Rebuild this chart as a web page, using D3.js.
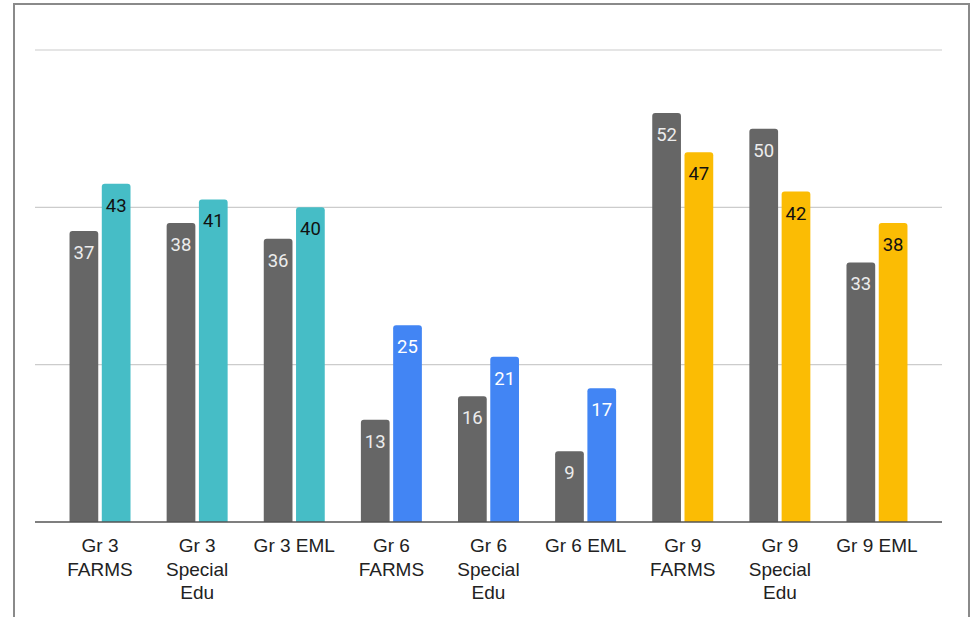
<!DOCTYPE html>
<html><head><meta charset="utf-8">
<script src="https://cdn.jsdelivr.net/npm/d3@7"></script>
<style>html,body{margin:0;padding:0;background:#fff;}svg{display:block;}</style>
</head><body>
<svg id="chart" width="977" height="617"></svg>
<script>
const categories = ["Gr 3 FARMS","Gr 3 Special Edu","Gr 3 EML","Gr 6 FARMS","Gr 6 Special Edu","Gr 6 EML","Gr 9 FARMS","Gr 9 Special Edu","Gr 9 EML"];
const seriesA = [37,38,36,13,16,9,52,50,33];
const seriesB = [43,41,40,25,21,17,47,42,38];
const colorsB = ["#46bdc6","#46bdc6","#46bdc6","#4285f4","#4285f4","#4285f4","#fbbc04","#fbbc04","#fbbc04"];
const labelColorsB = ["#111","#111","#111","#fff","#fff","#fff","#111","#111","#111"];
const gridTicks = [20,40,60];

const svg = d3.select("#chart");
// frame
svg.append("rect").attr("x",14).attr("y",4).attr("width",955).attr("height",640)
  .attr("fill","none").attr("stroke","#8a8a8a").attr("stroke-width",2);

const y = d3.scaleLinear().domain([0,60]).range([522,50]);
const x = d3.scaleBand().domain(categories).range([35,942]).paddingInner(0.372).paddingOuter(0.3555);
const xi = d3.scaleBand().domain(["A","B"]).range([0,x.bandwidth()]).paddingInner(0.11);

// grid
svg.append("g").selectAll("line").data(gridTicks).join("line")
  .attr("x1",35).attr("x2",942).attr("y1",d=>y(d)).attr("y2",d=>y(d))
  .attr("stroke","#cccccc").attr("stroke-width",1.2);

function barPath(x0,w,top,bottom,r){
  r=Math.min(r,(bottom-top));
  return `M${x0},${bottom}V${top+r}Q${x0},${top} ${x0+r},${top}H${x0+w-r}Q${x0+w},${top} ${x0+w},${top+r}V${bottom}Z`;
}

const data = categories.map((c,i)=>({c,i,a:seriesA[i],b:seriesB[i]}));
const g = svg.append("g");
data.forEach(d=>{
  const xa = x(d.c)+xi("A"), xb = x(d.c)+xi("B"), w = xi.bandwidth();
  g.append("path").attr("d",barPath(xa,w,y(d.a),y(0),3)).attr("fill","#666666");
  g.append("path").attr("d",barPath(xb,w,y(d.b),y(0),3)).attr("fill",colorsB[d.i]);
  g.append("text").attr("x",xa+w/2).attr("y",y(d.a)+28).attr("text-anchor","middle")
    .attr("font-family","Roboto").attr("font-size",18.5).attr("fill","#ececec").text(d.a);
  g.append("text").attr("x",xb+w/2).attr("y",y(d.b)+28).attr("text-anchor","middle")
    .attr("font-family","Roboto").attr("font-size",18.5).attr("fill",labelColorsB[d.i]).text(d.b);
});

// baseline
svg.append("line").attr("x1",35).attr("x2",942).attr("y1",y(0)).attr("y2",y(0))
  .attr("stroke","#555").attr("stroke-width",1.5);

// x axis labels with wrapping
const xAxis = svg.append("g").attr("transform",`translate(0,${y(0)})`)
  .call(d3.axisBottom(x).tickSize(0).tickPadding(0));
xAxis.select(".domain").remove();
xAxis.selectAll(".tick").attr("transform",d=>`translate(${x(d)+x.bandwidth()/2},0)`);
xAxis.selectAll(".tick text").each(function(d){
  const t = d3.select(this);
  t.attr("font-family","Liberation Sans, Arial, sans-serif").attr("font-size",19).attr("fill","#222")
   .attr("dy",null).attr("y",null).text(null);
  const words = d.split(" ");
  const lines=[]; let cur=[];
  const probe = t.append("tspan");
  words.forEach(wd=>{
    const trial = cur.concat([wd]).join(" ");
    probe.text(trial);
    if(probe.node().getComputedTextLength()>92 && cur.length){lines.push(cur.join(" "));cur=[wd];}
    else cur.push(wd);
  });
  lines.push(cur.join(" "));
  probe.remove();
  lines.forEach((ln,k)=>{
    t.append("tspan").attr("x",0).attr("y",30+k*23.5).text(ln);
  });
});
</script>
</body></html>
